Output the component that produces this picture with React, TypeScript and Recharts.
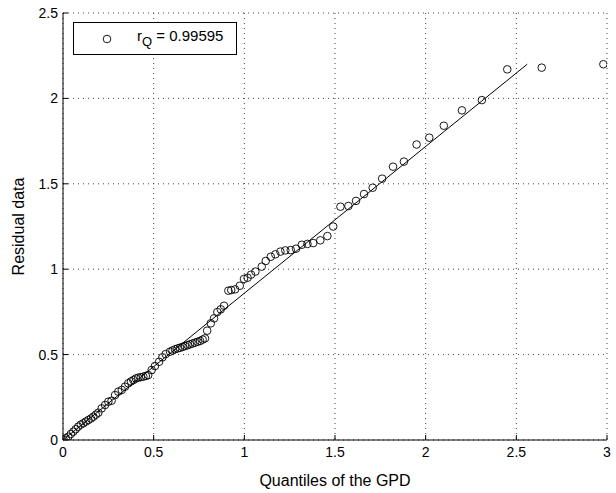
import React from 'react';
import {
  ScatterChart,
  Scatter,
  XAxis,
  YAxis,
  CartesianGrid,
  ReferenceLine,
  Legend,
} from 'recharts';

// quantiles of the fitted GPD (x) vs. sorted residuals (y)
const gpdQuantiles = [
  0.003, 0.015, 0.029, 0.043, 0.057, 0.07, 0.084, 0.098, 0.112, 0.126, 0.14, 0.154, 0.167,
  0.181, 0.195, 0.213, 0.232, 0.25, 0.268, 0.287, 0.305, 0.324, 0.342, 0.36, 0.375, 0.388,
  0.402, 0.415, 0.429, 0.443, 0.457, 0.47, 0.489, 0.507, 0.53, 0.548, 0.566, 0.59, 0.604,
  0.618, 0.632, 0.645, 0.659, 0.673, 0.687, 0.7, 0.714, 0.728, 0.742, 0.756, 0.77, 0.783,
  0.795, 0.815, 0.833, 0.851, 0.87, 0.888, 0.912, 0.928, 0.949, 0.975, 0.998, 1.018, 1.037,
  1.061, 1.096, 1.118, 1.146, 1.171, 1.199, 1.226, 1.256, 1.285, 1.317, 1.348, 1.38, 1.419,
  1.458, 1.49, 1.53, 1.574, 1.616, 1.66, 1.708, 1.76, 1.82, 1.88, 1.95, 2.02, 2.1, 2.2,
  2.31, 2.45, 2.64, 2.98,
];
const residuals = [
  0.003, 0.01, 0.019, 0.035, 0.049, 0.063, 0.078, 0.09, 0.098, 0.108, 0.117, 0.126, 0.136,
  0.148, 0.16, 0.185, 0.205, 0.224, 0.23, 0.263, 0.283, 0.293, 0.312, 0.332, 0.343, 0.351,
  0.36, 0.365, 0.368, 0.371, 0.375, 0.38, 0.41, 0.433, 0.458, 0.484, 0.503, 0.517, 0.524,
  0.531, 0.536, 0.54, 0.545, 0.55, 0.555, 0.56, 0.565, 0.57, 0.575, 0.58, 0.588, 0.595,
  0.64, 0.683, 0.712, 0.749, 0.765, 0.786, 0.874, 0.878, 0.882, 0.903, 0.943, 0.95, 0.968,
  0.986, 1.015, 1.048, 1.073, 1.087, 1.103, 1.11, 1.112, 1.12, 1.143, 1.148, 1.153, 1.169,
  1.194, 1.25, 1.366, 1.37, 1.4, 1.44, 1.477, 1.53, 1.6, 1.63, 1.73, 1.77, 1.84, 1.93,
  1.99, 2.17, 2.18, 2.2,
];

// reference line endpoints
const fitX = [0, 2.56];
const fitY = [0, 2.2];

const xTicks = [0, 0.5, 1, 1.5, 2, 2.5, 3];
const yTicks = [0, 0.5, 1, 1.5, 2, 2.5];

const data = gpdQuantiles.map((q, i) => ({ q, r: residuals[i] }));

const FONT = '"Liberation Sans", Arial, Helvetica, sans-serif';

const Circle = (props: any) => (
  <circle cx={props.cx} cy={props.cy} r={3.8} fill="none" stroke="#000" strokeWidth={0.9} />
);

const LegendBox = () => (
  <div
    style={{
      width: 162,
      height: 31,
      border: '1px solid #000',
      background: '#fff',
      fontFamily: FONT,
      fontSize: 15,
      position: 'relative',
      color: '#000',
    }}
  >
    <svg width={12} height={12} style={{ position: 'absolute', left: 27, top: 10 }}>
      <circle cx={6} cy={6} r={3.8} fill="none" stroke="#000" strokeWidth={0.9} />
    </svg>
    <span style={{ position: 'absolute', left: 63, top: 4, whiteSpace: 'nowrap' }}>
      r<sub style={{ fontSize: 13, verticalAlign: '-5px' }}>Q</sub> = 0.99595
    </span>
  </div>
);

export default function App() {
  return (
    <div style={{ position: 'absolute', left: 0, top: 0, background: '#fff' }}>
      <ScatterChart width={616} height={493} margin={{ top: 13, right: 9, bottom: 0, left: 0 }}>
        <CartesianGrid stroke="#444" strokeDasharray="1 4" />
        <XAxis
          dataKey="q"
          type="number"
          domain={[0, 3]}
          ticks={xTicks}
          height={53}
          stroke="#000"
          tickSize={-5}
          tickMargin={12}
          tick={{ fill: '#000', fontSize: 14, fontFamily: FONT }}
          allowDataOverflow
          label={{
            value: 'Quantiles of the GPD',
            position: 'insideBottom',
            offset: 7,
            style: { fill: '#000', fontSize: 16, fontFamily: FONT },
          }}
        />
        <XAxis
          xAxisId="top"
          orientation="top"
          type="number"
          domain={[0, 3]}
          ticks={xTicks}
          height={0}
          stroke="#000"
          tickSize={-5}
          tickFormatter={() => ''}
        />
        <YAxis
          dataKey="r"
          type="number"
          domain={[0, 2.5]}
          ticks={yTicks}
          width={63}
          stroke="#000"
          tickSize={-5}
          tickMargin={10}
          tick={{ fill: '#000', fontSize: 14, fontFamily: FONT }}
          allowDataOverflow
          label={{
            value: 'Residual data',
            angle: -90,
            position: 'center',
            dx: -13,
            style: { fill: '#000', fontSize: 16, fontFamily: FONT, textAnchor: 'middle' },
          }}
        />
        <YAxis
          yAxisId="right"
          orientation="right"
          type="number"
          domain={[0, 2.5]}
          ticks={yTicks}
          width={0}
          stroke="#000"
          tickSize={-5}
          tickFormatter={() => ''}
        />
        <ReferenceLine
          segment={[
            { x: fitX[0], y: fitY[0] },
            { x: fitX[1], y: fitY[1] },
          ]}
          stroke="#000"
          strokeWidth={1}
          ifOverflow="visible"
        />
        <Scatter data={data} shape={Circle} isAnimationActive={false} />
        <Legend
          verticalAlign="middle"
          align="center"
          content={() => <LegendBox />}
          wrapperStyle={{ top: 22, left: 73, width: 'auto' }}
        />
      </ScatterChart>
    </div>
  );
}
